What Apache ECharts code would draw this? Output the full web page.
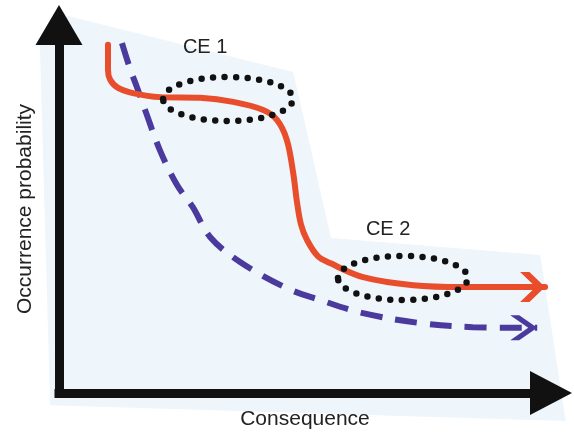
<!DOCTYPE html>
<html><head><meta charset="utf-8">
<script src="https://cdn.jsdelivr.net/npm/echarts@6/dist/echarts.min.js"></script>
<style>html,body{margin:0;padding:0;background:#fff}#c{width:574px;height:436px}</style>
</head><body><div id="c"></div>
<script>
// Conceptual curve: consequence (x, 0-100) vs occurrence probability (y, 0-100)
const redX = [9.96, 9.96, 10.4, 12.0, 15.0, 20.5, 28.7, 35.4, 41.5, 44.3, 46.3, 47.6, 48.4, 49.2, 50.4, 52.6, 55.1, 61.8, 72.0, 82.1, 98.8];
const redY = [94.6, 87.8, 85.1, 82.9, 81.5, 80.4, 80.2, 79.1, 76.9, 74.2, 68.8, 59.8, 51.6, 45.7, 41.6, 37.2, 35.3, 31.5, 29.3, 28.8, 28.8];
const blueX = [12.8, 14.4, 15.9, 17.5, 20.5, 24.0, 27.2, 30.7, 36.8, 46.3, 53.0, 61.8, 73.4, 84.1, 97.2];
const blueY = [95.1, 88.3, 82.9, 76.9, 66.0, 56.5, 50.5, 42.4, 35.6, 28.5, 25.3, 21.7, 19.0, 17.9, 17.7];
// background panel outline
const bgX = [-3.9, 0.2, 47.6, 55.3, 97.8, 103.0, -1.8];
const bgY = [95.4, 103.0, 87.2, 42.1, 37.5, -7.6, -3.3];
// critical events (ellipses): centre x, centre y, radius x, radius y
const ceNames = ['CE 1', 'CE 2'];
const ceCX = [34.35, 69.9];
const ceCY = [79.9, 31.25];
const ceRX = [13.2, 13.2];
const ceRY = [5.98, 6.0];
const ceLabelX = [29.7, 66.9];
const ceLabelY = [94.0, 44.3];

const FONT = 'Liberation Sans, Arial, Helvetica, sans-serif';
const RED = '#e84e2b';
const PURPLE = '#4b3a9d';

function lineData(xs, ys, arrowPath, size, color) {
  return xs.map((x, i) => {
    if (i === xs.length - 1) {
      return { value: [x, ys[i]], symbol: arrowPath, symbolSize: size,
               symbolOffset: [-size[0] / 2, 0], symbolKeepAspect: false,
               itemStyle: { color: color, borderWidth: 0 } };
    }
    return { value: [x, ys[i]], symbol: 'none' };
  });
}

const chart = echarts.init(document.getElementById('c'), null, { renderer: 'canvas' });
chart.setOption({
  animation: false,
  backgroundColor: '#ffffff',
  grid: { left: 59, right: 23, top: 25, bottom: 43 },
  xAxis: {
    type: 'value', min: 0, max: 100, z: 10,
    name: 'Consequence', nameLocation: 'middle', nameGap: 16,
    nameTextStyle: { fontFamily: FONT, fontSize: 21, color: '#222' },
    axisLine: { show: true, symbol: ['none', 'triangle'], symbolSize: [44, 42],
      lineStyle: { color: '#111', width: 9, cap: 'square' } },
    axisTick: { show: false }, axisLabel: { show: false }, splitLine: { show: false }
  },
  yAxis: {
    type: 'value', min: 0, max: 100, z: 10,
    name: 'Occurrence probability', nameLocation: 'middle', nameGap: 23,
    nameTextStyle: { fontFamily: FONT, fontSize: 21, color: '#222' },
    axisLine: { show: true, symbol: ['none', 'triangle'], symbolSize: [47, 40],
      lineStyle: { color: '#111', width: 9, cap: 'square' } },
    axisTick: { show: false }, axisLabel: { show: false }, splitLine: { show: false }
  },
  series: [
    {
      type: 'custom', z: 0, clip: false, silent: true,
      data: [[0, 0]],
      renderItem: function (params, api) {
        const pts = bgX.map((x, i) => api.coord([x, bgY[i]]));
        return { type: 'polygon', shape: { points: pts }, style: { fill: '#eef5fb' } };
      }
    },
    {
      type: 'line', z: 3, smooth: 0.35,
      data: lineData(blueX, blueY, 'path://M0,0 L9,0 L27,12 L9,24 L0,24 L18,12 Z', [27, 25], PURPLE),
      lineStyle: { color: PURPLE, width: 6, type: [22, 13] },
      itemStyle: { color: PURPLE, borderWidth: 0 }
    },
    {
      type: 'line', z: 4, smooth: 0.35,
      data: lineData(redX, redY, 'path://M0,0 L9,0 L24,15 L9,30 L0,30 L15,15 Z', [25, 30], RED),
      lineStyle: { color: RED, width: 6, cap: 'round' },
      itemStyle: { color: RED, borderWidth: 0 }
    },
    {
      type: 'custom', z: 6, clip: false, silent: true,
      data: ceNames.map((n, i) => [ceCX[i], ceCY[i], ceRX[i], ceRY[i], ceLabelX[i], ceLabelY[i]]),
      renderItem: function (params, api) {
        const c = api.coord([api.value(0), api.value(1)]);
        const s = api.size([api.value(2), api.value(3)]);
        const l = api.coord([api.value(4), api.value(5)]);
        return {
          type: 'group',
          children: [
            { type: 'ellipse', shape: { cx: c[0], cy: c[1], rx: s[0], ry: s[1] },
              style: { fill: 'none', stroke: '#111', lineWidth: 6.5, lineDash: [0, 11.5], lineCap: 'round' } },
            { type: 'text', x: l[0], y: l[1],
              style: { text: ceNames[params.dataIndex], fill: '#222', font: '20px ' + FONT,
                       align: 'center', verticalAlign: 'middle' } }
          ]
        };
      }
    }
  ]
});
</script>
</body></html>
